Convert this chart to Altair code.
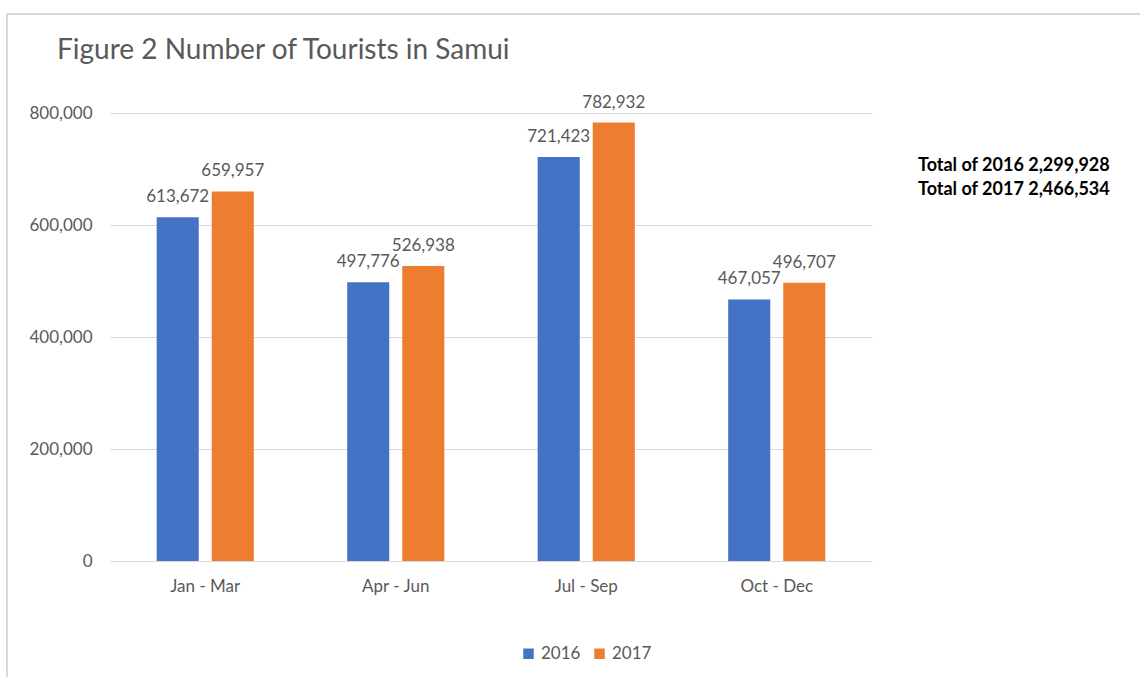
import altair as alt
import pandas as pd

quarters = ["Jan - Mar", "Apr - Jun", "Jul - Sep", "Oct - Dec"]
years = ["2016", "2017"]
v2016 = [613672, 497776, 721423, 467057]
v2017 = [659957, 526938, 782932, 496707]
colors = ["#4472C4", "#ED7D31"]
title_text = "Figure 2 Number of Tourists in Samui"

rows = []
for q, a, b in zip(quarters, v2016, v2017):
    rows.append({"quarter": q, "year": "2016", "tourists": a})
    rows.append({"quarter": q, "year": "2017", "tourists": b})
df = pd.DataFrame(rows)

totals_text = "\n".join(
    f"Total of {y} {sum(v):,}" for y, v in zip(years, [v2016, v2017])
)

FONT = "Lato"
GREY = "#595959"

x_enc = alt.X(
    "quarter:N",
    sort=quarters,
    scale=alt.Scale(paddingInner=0.49, paddingOuter=0.245),
    axis=alt.Axis(
        title=None, labelAngle=0, ticks=False, domain=True, grid=False,
        domainColor="#d9d9d9", domainWidth=1, labelPadding=17,
        labelFontSize=17, labelColor=GREY, labelFont=FONT,
    ),
)
xo_enc = alt.XOffset("year:N", scale=alt.Scale(paddingInner=0.236, paddingOuter=0))
y_enc = alt.Y(
    "tourists:Q",
    scale=alt.Scale(domain=[0, 800000]),
    axis=alt.Axis(
        title=None, values=[0, 200000, 400000, 600000, 800000],
        labelExpr="format(datum.value, ',')",
        ticks=False, domain=False, gridColor="#d9d9d9", gridWidth=1,
        labelPadding=18, labelFontSize=17, labelColor=GREY, labelFont=FONT,
    ),
)
color_enc = alt.Color(
    "year:N",
    scale=alt.Scale(domain=years, range=colors),
    legend=alt.Legend(
        title=None, orient="none", direction="horizontal",
        legendX=410, legendY=532, symbolType="square", symbolSize=110,
        symbolStrokeWidth=0, labelFontSize=17, labelColor=GREY, labelFont=FONT,
        columnPadding=10, labelOffset=4,
    ),
)

base = alt.Chart(df)
bars = base.mark_bar().encode(x=x_enc, xOffset=xo_enc, y=y_enc, color=color_enc)
labels = base.mark_text(
    baseline="alphabetic", dy=-15, fontSize=17, color=GREY, font=FONT
).encode(
    x=x_enc,
    xOffset=xo_enc,
    y=y_enc,
    text=alt.Text("tourists:Q", format=","),
)

totals = alt.Chart(alt.Data(values=[{"t": totals_text}])).mark_text(
    align="left", baseline="middle", fontSize=18, fontWeight="bold",
    color="#000000", font=FONT, lineBreak="\n", lineHeight=24,
).encode(x=alt.value(808), y=alt.value(53), text="t:N")

frame = alt.Chart(alt.Data(values=[{}])).mark_rect(
    fill=None, stroke="#d9d9d9", strokeWidth=2
).encode(x=alt.value(-103), y=alt.value(-99), x2=alt.value(1200), y2=alt.value(700))

chart = alt.layer(frame, bars, labels, totals).properties(
    width=762,
    height=448,
    background="white",
    title=alt.TitleParams(
        title_text, anchor="start", frame="group", dx=-53, dy=52, fontSize=28,
        fontWeight="normal", color=GREY, font=FONT, offset=0,
    ),
    autosize=alt.AutoSizeParams(type="none"),
    padding={"left": 110, "top": 113, "right": 268, "bottom": 116},
).configure_view(strokeWidth=0, stroke="transparent")

chart.save("out.html", embed_options={"renderer": "svg", "actions": False})
